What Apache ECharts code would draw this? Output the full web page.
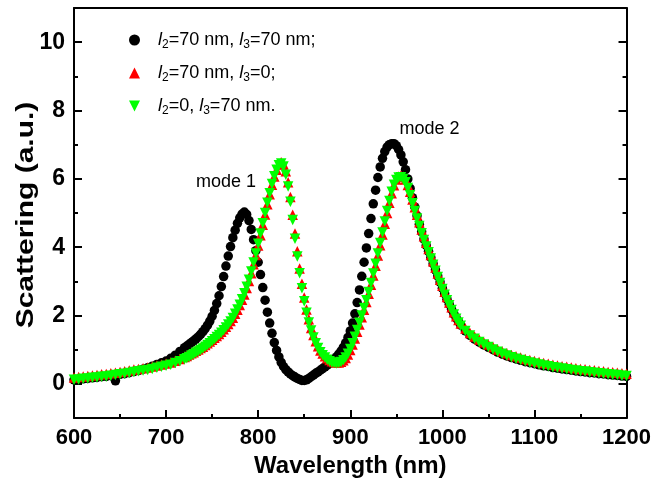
<!DOCTYPE html>
<html>
<head>
<meta charset="utf-8">
<script src="https://cdn.jsdelivr.net/npm/echarts@6/dist/echarts.min.js"></script>
<style>html,body{margin:0;padding:0;background:#fff;}#c{width:654px;height:483px;}</style>
</head>
<body>
<div id="c"></div>
<script>
// Wavelength grid (nm)
const wavelength = [
  600,605,610,615,620,625,630,635,640,645,
  650,655,660,665,670,675,680,685,690,695,
  700,705,710,715,720,
  722.5,725,727.5,730,732.5,735,737.5,740,742.5,745,
  747.5,750,752.5,755,757.5,760,762.5,765,767.5,770,
  772.5,775,777.5,780,782.5,785,787.5,790,792.5,795,
  797.5,800,802.5,805,807.5,810,812.5,815,817.5,820,
  822.5,825,827.5,830,832.5,835,837.5,840,842.5,845,
  847.5,850,852.5,855,857.5,860,862.5,865,867.5,870,
  872.5,875,877.5,880,882.5,885,887.5,890,892.5,895,
  897.5,900,902.5,905,907.5,910,912.5,915,917.5,920,
  922.5,925,927.5,930,932.5,935,937.5,940,942.5,945,
  947.5,950,952.5,955,957.5,960,962.5,965,967.5,970,
  972.5,975,977.5,980,982.5,985,987.5,990,992.5,995,
  997.5,1000,1002.5,1005,1007.5,1010,1012.5,1015,1017.5,1020,
  1025,1030,1035,1040,1045,1050,1055,1060,1065,1070,
  1075,1080,1085,1090,1095,1100,1105,1110,1115,1120,
  1125,1130,1135,1140,1145,1150,1155,1160,1165,1170,
  1175,1180,1185,1190,1195,1200
];
// l2=70 nm, l3=70 nm (black circles)
const scatBoth = [
  0.12,0.13,0.15,0.16,0.18,0.19,0.21,0.22,0.24,0.09,
  0.28,0.30,0.33,0.36,0.39,0.43,0.47,0.52,0.57,0.62,
  0.67,0.75,0.84,0.95,1.06,
  1.11,1.16,1.21,1.26,1.32,1.38,1.45,1.53,1.62,1.72,
  1.84,1.98,2.15,2.35,2.58,2.85,3.14,3.45,3.74,4.02,
  4.28,4.50,4.70,4.86,4.97,5.03,4.96,4.78,4.52,4.22,
  3.90,3.56,3.20,2.82,2.45,2.10,1.78,1.48,1.21,0.98,
  0.79,0.63,0.51,0.42,0.35,0.29,0.24,0.20,0.16,0.13,
  0.10,0.10,0.12,0.16,0.21,0.26,0.31,0.35,0.40,0.45,
  0.50,0.55,0.60,0.66,0.72,0.79,0.87,0.96,1.07,1.20,
  1.36,1.55,1.78,2.05,2.38,2.75,3.15,3.56,3.98,4.40,
  4.84,5.27,5.67,6.04,6.35,6.60,6.80,6.93,7.00,7.03,
  7.03,6.97,6.86,6.70,6.50,6.27,6.00,5.72,5.45,5.18,
  4.92,4.67,4.45,4.24,4.05,3.88,3.70,3.52,3.34,3.16,
  2.98,2.80,2.64,2.48,2.33,2.18,2.05,1.93,1.82,1.72,
  1.55,1.42,1.31,1.22,1.14,1.07,1.00,0.93,0.87,0.82,
  0.77,0.73,0.69,0.65,0.62,0.59,0.56,0.53,0.51,0.48,
  0.46,0.44,0.42,0.40,0.38,0.36,0.35,0.33,0.32,0.30,
  0.29,0.27,0.26,0.25,0.23,0.22
];
// l2=70 nm, l3=0 (red up-triangles)
const scatL2 = [
  0.19,0.20,0.22,0.23,0.25,0.26,0.28,0.29,0.31,0.33,
  0.35,0.37,0.39,0.42,0.44,0.46,0.48,0.51,0.54,0.57,
  0.60,0.63,0.68,0.73,0.79,
  0.82,0.86,0.90,0.93,0.97,1.01,1.05,1.09,1.14,1.19,
  1.24,1.29,1.35,1.40,1.46,1.53,1.60,1.67,1.75,1.84,
  1.94,2.05,2.17,2.31,2.46,2.62,2.81,3.01,3.24,3.50,
  3.77,4.05,4.35,4.66,4.96,5.26,5.55,5.83,6.07,6.27,
  6.42,6.49,6.43,6.22,5.90,5.47,4.95,4.40,3.88,3.38,
  2.93,2.53,2.18,1.89,1.64,1.43,1.25,1.10,0.98,0.89,
  0.81,0.75,0.70,0.66,0.64,0.63,0.63,0.65,0.69,0.76,
  0.86,0.99,1.15,1.33,1.53,1.74,1.95,2.17,2.40,2.64,
  2.90,3.17,3.46,3.76,4.06,4.37,4.69,5.00,5.30,5.58,
  5.81,5.98,6.07,6.10,6.07,5.98,5.82,5.62,5.40,5.17,
  4.95,4.73,4.52,4.32,4.13,3.95,3.77,3.59,3.41,3.23,
  3.05,2.87,2.70,2.54,2.38,2.24,2.10,1.98,1.87,1.77,
  1.62,1.49,1.39,1.30,1.22,1.15,1.08,1.01,0.95,0.90,
  0.85,0.81,0.77,0.73,0.70,0.67,0.64,0.61,0.59,0.56,
  0.54,0.52,0.50,0.48,0.46,0.44,0.43,0.41,0.40,0.38,
  0.37,0.35,0.34,0.33,0.31,0.30
];
// l2=0, l3=70 nm (green down-triangles)
const scatL3 = [
  0.12,0.13,0.15,0.16,0.18,0.19,0.21,0.22,0.24,0.26,
  0.28,0.30,0.32,0.35,0.37,0.39,0.41,0.44,0.47,0.50,
  0.53,0.56,0.61,0.66,0.72,
  0.75,0.79,0.83,0.87,0.91,0.95,0.99,1.04,1.09,1.14,
  1.19,1.25,1.31,1.37,1.43,1.50,1.57,1.65,1.74,1.83,
  1.93,2.05,2.18,2.32,2.48,2.65,2.84,3.05,3.29,3.55,
  3.82,4.10,4.40,4.70,5.00,5.30,5.58,5.85,6.08,6.27,
  6.40,6.45,6.36,6.12,5.78,5.33,4.80,4.25,3.73,3.24,
  2.80,2.42,2.08,1.80,1.56,1.36,1.19,1.05,0.93,0.84,
  0.77,0.71,0.66,0.63,0.61,0.60,0.61,0.64,0.69,0.77,
  0.88,1.02,1.19,1.38,1.58,1.79,2.00,2.22,2.45,2.69,
  2.95,3.23,3.52,3.82,4.12,4.43,4.75,5.06,5.35,5.62,
  5.83,5.97,6.04,6.05,6.00,5.90,5.73,5.52,5.29,5.06,
  4.84,4.62,4.41,4.21,4.02,3.85,3.67,3.49,3.31,3.13,
  2.95,2.78,2.61,2.45,2.30,2.16,2.03,1.91,1.80,1.70,
  1.55,1.42,1.32,1.23,1.15,1.08,1.01,0.94,0.88,0.83,
  0.78,0.74,0.70,0.66,0.63,0.60,0.57,0.54,0.52,0.49,
  0.47,0.45,0.43,0.41,0.39,0.37,0.36,0.34,0.33,0.31,
  0.30,0.28,0.27,0.26,0.24,0.23
];
const seriesNames = ['both', 'l2only', 'l3only'];
const legendRich = {
  both:   '{sp|}{i|l}{s|2}{t|=70 nm, }{i|l}{s|3}{t|=70 nm;}',
  l2only: '{sp|}{i|l}{s|2}{t|=70 nm, }{i|l}{s|3}{t|=0;}',
  l3only: '{sp|}{i|l}{s|2}{t|=0, }{i|l}{s|3}{t|=70 nm.}'
};
const yMajorTicks = [0, 2, 4, 6, 8, 10];
const yMinorTicks = [1, 3, 5, 7, 9];
const modeNotes = [
  { name: 'mode 1', coord: [765, 5.91] },
  { name: 'mode 2', coord: [986, 7.46] }
];

const FONT = '"Liberation Sans", Arial, sans-serif';
const pairs = (ys) => wavelength.map((x, i) => [x, ys[i]]);

const chart = echarts.init(document.getElementById('c'), null, { renderer: 'canvas' });

const tickStyle = { color: '#000', width: 2 };
const lineStyle = { color: '#000', width: 2 };

const option = {
  animation: false,
  backgroundColor: '#fff',
  grid: { left: 74, right: 26, top: 8, bottom: 64, containLabel: false },
  legend: {
    orient: 'vertical',
    left: 124,
    top: 26,
    itemWidth: 11,
    itemHeight: 11,
    itemGap: 13,
    data: [
      { name: 'both', icon: 'circle' },
      { name: 'l2only', icon: 'triangle' },
      { name: 'l3only', icon: 'path://M0,0 L10,0 L5,10 Z' }
    ],
    formatter: (n) => legendRich[n],
    textStyle: {
      fontFamily: FONT, fontSize: 18, color: '#000',
      rich: {
        sp: { width: 13 },
        i: { fontFamily: FONT, fontSize: 18, fontStyle: 'italic', color: '#000' },
        s: { fontFamily: FONT, fontSize: 12, color: '#000', padding: [10, 0, 0, 0] },
        t: { fontFamily: FONT, fontSize: 18, color: '#000' }
      }
    }
  },
  xAxis: [
    {
      type: 'value', position: 'bottom', min: 600, max: 1200, interval: 100,
      name: 'Wavelength (nm)', nameLocation: 'middle', nameGap: 35,
      nameTextStyle: { fontFamily: FONT, fontSize: 24, fontWeight: 'bold', color: '#000' },
      axisLine: { show: true, onZero: false, lineStyle },
      axisTick: { show: true, inside: true, length: 8, lineStyle: tickStyle },
      minorTick: { show: true, splitNumber: 2, length: 4, lineStyle: tickStyle },
      axisLabel: { show: true, margin: 9, fontFamily: FONT, fontSize: 22, fontWeight: 'bold', color: '#000',
        formatter: (v) => String(v) },
      splitLine: { show: false }, minorSplitLine: { show: false }
    },
    {
      type: 'value', position: 'top', min: 600, max: 1200, interval: 100,
      axisLine: { show: true, onZero: false, lineStyle },
      axisTick: { show: false }, axisLabel: { show: false }, splitLine: { show: false }
    }
  ],
  yAxis: [
    {
      type: 'value', position: 'left', min: -1, max: 11,
      axisLine: { show: true, onZero: false, lineStyle },
      axisTick: { show: true, inside: true, length: 8, lineStyle: tickStyle, customValues: yMajorTicks },
      axisLabel: { show: true, margin: 9, fontFamily: FONT, fontSize: 23, fontWeight: 'bold', color: '#000',
        customValues: yMajorTicks, formatter: (v) => String(v) },
      splitLine: { show: false }
    },
    {
      type: 'value', position: 'left', min: -1, max: 11,
      axisLine: { show: false, onZero: false },
      axisTick: { show: true, inside: true, length: 4, lineStyle: tickStyle, customValues: yMinorTicks },
      axisLabel: { show: false, customValues: yMinorTicks },
      splitLine: { show: false }
    },
    {
      type: 'value', position: 'right', min: -1, max: 11,
      axisLine: { show: true, onZero: false, lineStyle },
      axisTick: { show: true, inside: true, length: 8, lineStyle: tickStyle, customValues: yMajorTicks },
      axisLabel: { show: false, customValues: yMajorTicks },
      splitLine: { show: false }
    },
    {
      type: 'value', position: 'right', min: -1, max: 11,
      axisLine: { show: false, onZero: false },
      axisTick: { show: true, inside: true, length: 4, lineStyle: tickStyle, customValues: yMinorTicks },
      axisLabel: { show: false, customValues: yMinorTicks },
      splitLine: { show: false }
    }
  ],
  graphic: [
    {
      type: 'text', x: 26, y: 215, rotation: Math.PI / 2, scaleX: 1.25,
      style: { text: 'Scattering (a.u.)', font: 'bold 24px ' + FONT, fill: '#000', align: 'center', verticalAlign: 'middle' }
    }
  ],
  series: [
    {
      name: seriesNames[0], type: 'scatter', data: pairs(scatBoth),
      symbol: 'circle', symbolSize: 9.5, itemStyle: { color: '#000000', opacity: 1 },
      markPoint: {
        symbol: 'circle', symbolSize: 0,
        label: { show: true, position: 'inside', formatter: '{b}', fontFamily: FONT, fontSize: 18, color: '#000' },
        data: modeNotes
      }
    },
    {
      name: seriesNames[1], type: 'scatter', data: pairs(scatL2),
      symbol: 'triangle', symbolSize: 10.5, itemStyle: { color: '#ff0000', opacity: 1 }
    },
    {
      name: seriesNames[2], type: 'scatter', data: pairs(scatL3),
      symbol: 'triangle', symbolRotate: 180, symbolSize: 10.5, itemStyle: { color: '#00ff00', opacity: 1 }
    }
  ]
};
chart.setOption(option);
</script>
</body>
</html>
